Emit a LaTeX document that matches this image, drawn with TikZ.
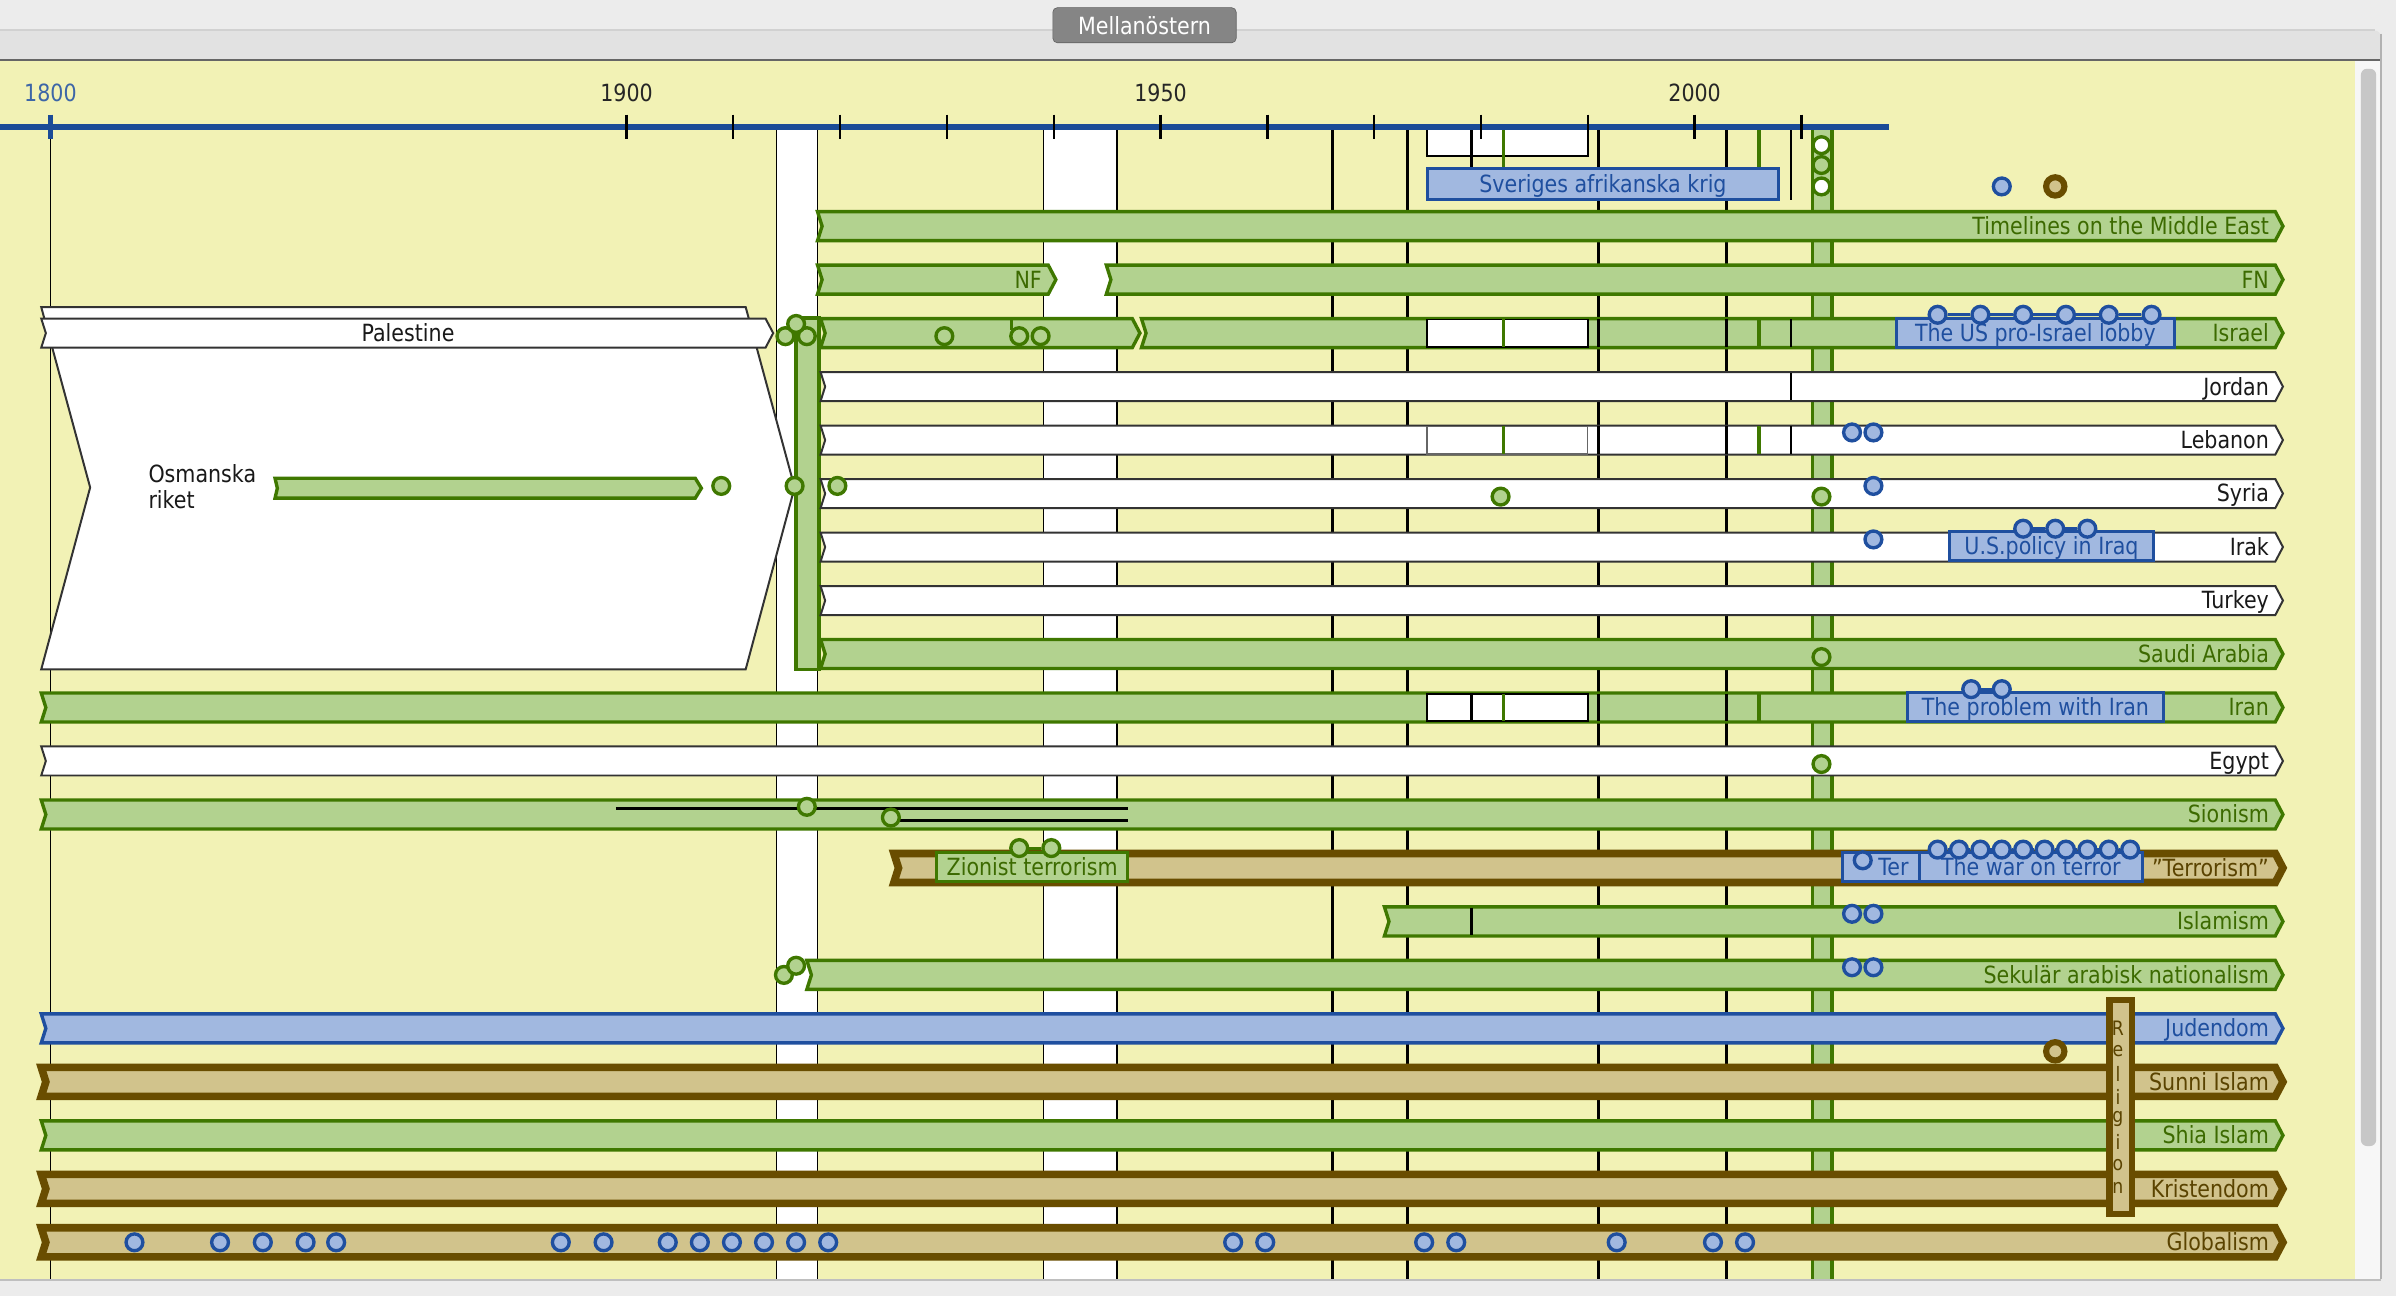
\documentclass[tikz,border=0pt]{standalone}
\usepackage{fontspec}
\setmainfont{DejaVu Sans}[FakeStretch=0.87]
\usetikzlibrary{positioning}

\definecolor{chrome}{HTML}{ECECEC}
\definecolor{chromedark}{HTML}{E2E2E2}
\definecolor{paper}{HTML}{F2F2B5}
\definecolor{leaf}{HTML}{B2D28F}
\definecolor{leafdark}{HTML}{3F7800}
\definecolor{leaftext}{HTML}{3C6A00}
\definecolor{sky}{HTML}{A1B8E0}
\definecolor{skydark}{HTML}{1F4F9F}
\definecolor{sand}{HTML}{D1C38C}
\definecolor{sanddark}{HTML}{694D00}
\definecolor{sandtext}{HTML}{5A4300}
\definecolor{axisblue}{HTML}{1B4B97}

\newcommand{\lanefont}{\fontsize{15.5}{17}\selectfont}

% one lane of the timeline: style, start, end, row, name, text style, label
\newcommand{\lane}[7]{%
  \path[#1] (#2,#4-9.5) -- (#3,#4-9.5) -- (#3+5,#4) -- (#3,#4+9.5)
    -- (#2,#4+9.5) -- (#2+3,#4) -- cycle;
  \node[#6, anchor=base east] (#5) at (#3-4,#4+5.5) {#7};
}

\tikzset{
  greenlane/.style={fill=leaf, draw=leafdark, line width=2.2pt},
  whitelane/.style={fill=white, draw=black!80, line width=1.3pt},
  bluelane/.style={fill=sky, draw=skydark, line width=2.2pt},
  brownlane/.style={fill=sand, draw=sanddark, line width=5pt},
  lbl/.style={font=\lanefont, inner sep=0pt},
  greenlbl/.style={lbl, text=leaftext},
  blacklbl/.style={lbl, text=black!90},
  bluelbl/.style={lbl, text=skydark},
  brownlbl/.style={lbl, text=sandtext},
  period/.style={draw=black, line width=1.8pt},
  greenperiod/.style={draw=leafdark, line width=2.4pt},
  warband/.style={fill=white, draw=black, line width=1.1pt},
  gdot/.style={circle, fill=leaf, draw=leafdark, line width=2.2pt, minimum size=11pt, inner sep=0pt},
  wdot/.style={gdot, fill=white},
  bdot/.style={circle, fill=sky, draw=skydark, line width=2.2pt, minimum size=11pt, inner sep=0pt},
  sdot/.style={circle, fill=sand, draw=sanddark, line width=4pt, minimum size=12pt, inner sep=0pt},
  tagbox/.style={rectangle, fill=sky, draw=skydark, line width=2pt, text=skydark, font=\lanefont,
    minimum height=19pt, inner sep=0pt, text height=11pt, text depth=0pt},
  greentag/.style={tagbox, fill=leaf, draw=leafdark, text=leaftext},
  yeartick/.style={draw=black, line width=1.5pt},
  tie/.style={draw=skydark, line width=2pt},
}

\begin{document}
\begin{tikzpicture}[x=1pt, y=-1pt]
\clip (0,0) rectangle (1568,848);
% window
\fill[chrome] (0,0) rectangle (1568,848);
\fill[chromedark, rounded corners=4pt] (-5,20) rectangle (1558,45);
\draw[black!18, line width=1pt] (0,19.5) -- (1554,19.5);
\fill[paper] (0,40) rectangle (1541,837);
\draw[black!60, line width=1.2pt] (0,39.5) -- (1558,39.5);
\fill[black!3] (1541,40) rectangle (1558,837);
\fill[black!22, rounded corners=4pt] (1545,45) rectangle (1555,750);
\draw[black!30, line width=1pt] (1558,22) -- (1558,840);
\node[fill=black!48, draw=black!62, rounded corners=3pt, text=white, font=\lanefont,
  minimum width=120pt, minimum height=23pt, inner sep=0pt] (tab) at (749,16.5) {Mellanöstern};

% periods behind the lanes
\fill[white] (508,84) rectangle (535,837);
\fill[white] (683,84) rectangle (731,837);
\foreach \px in {508,535,683,731} \draw[black, line width=1pt] (\px,84) -- (\px,837);
\draw[black, line width=1pt] (33,84) -- (33,837);
\foreach \px in {872,921,1046,1130} \draw[period] (\px,84) -- (\px,837);
\path[fill=leaf, draw=leafdark, line width=2.2pt] (1186,84) rectangle (1199,845);
\draw[warband] (934,84) rectangle (1039,102);
\draw[period] (963,84) -- (963,131);
\draw[greenperiod] (984,84) -- (984,109);
\draw[greenperiod] (1151,84) -- (1151,131);
\draw[period] (1172,84) -- (1172,131);

% time axis
\draw[axisblue, line width=3.5pt] (0,83) -- (1236,83);
\draw[axisblue, line width=3pt] (33,75) -- (33,91);
\foreach \i in {0,...,11} \draw[yeartick] ({410+69.9*\i},75) -- ++(0,16);
\node[lbl, text=axisblue!85] (y1800) at (33,61) {1800};
\node[lbl, text=black!85] (y1900) at (410,61) {1900};
\node[lbl, text=black!85] (y1950) at (759.5,61) {1950};
\node[lbl, text=black!85] (y2000) at (1109,61) {2000};

\node[tagbox, minimum width=230pt, minimum height=20pt] (sveriges) at (1049,120.5) {Sveriges afrikanska krig};
\node[bdot] (top1) at (1310,122) {};
\node[sdot] (top2) at (1345,122) {};

% Osmanska riket and Palestine
\path[whitelane] (27,201) -- (488,201) -- (520,319) -- (488,438) -- (27,438) -- (59,319) -- cycle;
\node[blacklbl, anchor=base west] (osman1) at (97,316) {Osmanska};
\node[blacklbl, anchor=base west] (osman2) at (97,333) {riket};
\path[greenlane] (180,313) -- (455,313) -- (459,319.5) -- (455,326) -- (180,326) -- (181.5,319.5) -- cycle;
\node[gdot] (osm1) at (472,318) {};
\lane{whitelane}{27}{501}{218}{palend}{blacklbl}{}
\node[blacklbl] (palestine) at (267,218) {Palestine};
\path[fill=leaf, draw=leafdark, line width=2.2pt] (521,208) rectangle (536,438);

% lanes
\lane{greenlane}{535}{1489}{148}{timelines}{greenlbl}{Timelines on the Middle East}
\lane{greenlane}{535}{686}{183}{nf}{greenlbl}{NF}
\lane{greenlane}{724}{1489}{183}{fn}{greenlbl}{FN}
\lane{greenlane}{537}{741}{218}{mandate}{greenlbl}{}
\lane{greenlane}{747}{1489}{218}{israel}{greenlbl}{Israel}
\lane{whitelane}{537}{1489}{253}{jordan}{blacklbl}{Jordan}
\lane{whitelane}{537}{1489}{288}{lebanon}{blacklbl}{Lebanon}
\lane{whitelane}{537}{1489}{323}{syria}{blacklbl}{Syria}
\lane{whitelane}{537}{1489}{358}{irak}{blacklbl}{Irak}
\lane{whitelane}{537}{1489}{393}{turkey}{blacklbl}{Turkey}
\lane{greenlane}{537}{1489}{428}{saudi}{greenlbl}{Saudi Arabia}
\lane{greenlane}{27}{1489}{463}{iran}{greenlbl}{Iran}
\lane{whitelane}{27}{1489}{498}{egypt}{blacklbl}{Egypt}
\lane{greenlane}{27}{1489}{533}{sionism}{greenlbl}{Sionism}
\lane{brownlane}{585}{1489}{568}{terrorism}{brownlbl}{\char34 Terrorism\char34}
\lane{greenlane}{906}{1489}{603}{islamism}{greenlbl}{Islamism}
\lane{greenlane}{528}{1489}{638}{sekular}{greenlbl}{Sekulär arabisk nationalism}
\lane{bluelane}{27}{1489}{673}{judendom}{bluelbl}{Judendom}
\lane{brownlane}{27}{1489}{708}{sunni}{brownlbl}{Sunni Islam}
\lane{greenlane}{27}{1489}{743}{shia}{greenlbl}{Shia Islam}
\lane{brownlane}{27}{1489}{778}{kristendom}{brownlbl}{Kristendom}
\lane{brownlane}{27}{1489}{813}{globalism}{brownlbl}{Globalism}
\lane{greenlane}{27}{1489}{848}{lastlane}{greenlbl}{}

% periods over some lanes
\draw[warband] (934,209) rectangle (1039,227);
\draw[black!60, line width=1pt] (934,279) rectangle (1039,297);
\draw[warband] (934,454) rectangle (1039,472);
\draw[period] (963,454) -- (963,472);
\draw[period] (963,594) -- (963,612);
\foreach \ry in {218,288,463} {
  \draw[greenperiod] (984,\ry-9) -- (984,\ry+9);
  \draw[period] (1046,\ry-9) -- (1046,\ry+9);
  \draw[period] (1130,\ry-9) -- (1130,\ry+9);
  \draw[greenperiod] (1151,\ry-9) -- (1151,\ry+9);
}
\foreach \ry in {218,253,288} \draw[period] (1172,\ry-9) -- (1172,\ry+9);
\draw[greenperiod] (662,209) -- (662,216);
\draw[black, line width=2pt] (403,529) -- (738,529);
\draw[black, line width=2pt] (583,537) -- (738,537);

% events
\node[wdot] (arab1) at (1192,95) {};
\node[gdot] (arab2) at (1192,108) {};
\node[wdot] (arab3) at (1192,122) {};
\node[gdot] (osm2) at (520,318) {};
\node[gdot] (osm3) at (548,318) {};
\node[gdot] (isr1) at (514,220) {};
\node[gdot] (isr2) at (528,220) {};
\node[gdot] (isr3) at (521,212) {};
\node[gdot] (isr4) at (618,220) {};
\node[gdot] (isr5) at (667,220) {};
\node[gdot] (isr6) at (681,220) {};
\node[bdot] (leb1) at (1212,283) {};
\node[bdot] (leb2) at (1226,283) {};
\node[gdot] (syr1) at (982,325) {};
\node[gdot] (syr2) at (1192,325) {};
\node[bdot] (syr3) at (1226,318) {};
\node[bdot] (irq1) at (1226,353) {};
\node[gdot] (sau1) at (1192,430) {};
\node[gdot] (egy1) at (1192,500) {};
\node[gdot] (sio1) at (528,528) {};
\node[gdot] (sio2) at (583,535) {};
\node[bdot] (isl1) at (1212,598) {};
\node[bdot] (isl2) at (1226,598) {};
\node[gdot] (sek1) at (513,638) {};
\node[gdot] (sek2) at (521,632) {};
\node[bdot] (sek3) at (1212,633) {};
\node[bdot] (sek4) at (1226,633) {};
\node[sdot] (jud1) at (1345,688) {};
\foreach \gx [count=\i] in {88,144,172,200,220,367,395,437,458,479,500,521,542,807,828,932,953,1058,1121,1142}
  \node[bdot] (glob\i) at (\gx,813) {};

% boxes with their event chains
\node[tagbox, minimum width=182pt] (lobby) at (1332,218) {The US pro-Israel lobby};
\foreach \i in {1,...,6} \node[bdot] (lobby\i) at ({1240+28*\i},206) {};
\foreach \i/\j in {1/2,2/3,3/4,4/5,5/6} \draw[tie] (lobby\i) -- (lobby\j);

\node[tagbox, minimum width=133pt] (iraq) at (1342.5,357.5) {U.S.policy in Iraq};
\foreach \i in {1,2,3} \node[bdot] (iraq\i) at ({1303+21*\i},346) {};
\foreach \i/\j in {1/2,2/3} \draw[tie] (iraq\i) -- (iraq\j);

\node[tagbox, minimum width=168pt] (iranbox) at (1332,462.5) {The problem with Iran};
\foreach \i in {1,2} \node[bdot] (iran\i) at ({1270+20*\i},451) {};
\draw[tie] (iran1) -- (iran2);

\node[greentag, minimum width=125pt] (zionist) at (675.5,567.5) {Zionist terrorism};
\node[gdot] (zion1) at (667,555) {};
\node[gdot] (zion2) at (688,555) {};
\draw[leafdark, line width=2pt] (zion1) -- (zion2);

\node[tagbox, minimum width=50pt] (terbox) at (1231,567.5) {};
\node[bluelbl, anchor=base west] (tertxt) at (1229,573) {Ter};
\node[bdot] (ter1) at (1219,563) {};
\node[tagbox, minimum width=146pt] (waronterror) at (1329,567.5) {The war on terror};
\foreach \i in {1,...,10} \node[bdot] (war\i) at ({1254+14*\i},556) {};
\foreach \i/\j in {1/2,2/3,3/4,4/5,5/6,6/7,7/8,8/9,9/10} \draw[tie] (war\i) -- (war\j);

% religion group
\node[fill=sand, draw=sanddark, line width=4pt, minimum width=15pt, minimum height=140pt,
  inner sep=0pt] (religion) at (1388,724.5) {};
\foreach \ch [count=\i] in {R,e,l,i,g,i,o,n}
  \node[brownlbl, font=\fontsize{13}{13}\selectfont] (rel\i) at (1386,658+14.9*\i) {\ch};

% bottom of window
\fill[chrome] (0,837) rectangle (1568,848);
\draw[black!25, line width=1pt] (0,837.5) -- (1558,837.5);
\end{tikzpicture}
\end{document}
